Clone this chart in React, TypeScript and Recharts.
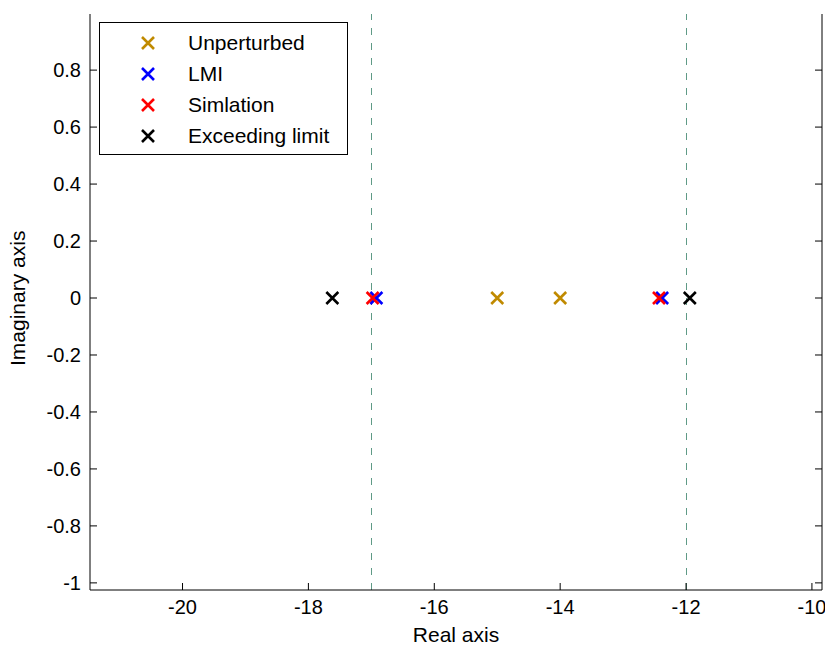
import {
  ScatterChart,
  Scatter,
  XAxis,
  YAxis,
  ReferenceLine,
  Legend,
} from "recharts";

// pole locations (real part, imaginary part)
const unperturbed = [
  { re: -15.0, im: 0 },
  { re: -14.0, im: 0 },
];
const lmi = [
  { re: -16.92, im: 0 },
  { re: -12.38, im: 0 },
];
const simulation = [
  { re: -16.98, im: 0 },
  { re: -12.43, im: 0 },
];
const exceeding = [
  { re: -17.62, im: 0 },
  { re: -11.94, im: 0 },
];

const limits = [-17, -12];

const xTicks = [-20, -18, -16, -14, -12, -10];
const yTicks = [-1, -0.8, -0.6, -0.4, -0.2, 0, 0.2, 0.4, 0.6, 0.8];

const xDomain = [-21.47, -9.84];
const yDomain = [-1.025, 0.997];

const series = [
  { name: "Unperturbed", color: "#c08a00", data: unperturbed },
  { name: "LMI", color: "#0000ff", data: lmi },
  { name: "Simlation", color: "#ff0000", data: simulation },
  { name: "Exceeding limit", color: "#000000", data: exceeding },
];

const FONT = "'Liberation Sans', Arial, sans-serif";
const TICK_LEN = 7;

function Cross({ cx, cy, fill }: any) {
  const r = 6;
  return (
    <path
      d={`M${cx - r},${cy - r}L${cx + r},${cy + r}M${cx - r},${cy + r}L${cx + r},${cy - r}`}
      stroke={fill}
      strokeWidth={2.6}
      fill="none"
    />
  );
}

const BOTTOM_MARGIN = 9;
const LEFT_MARGIN = 9;

function BottomTick({ x, y, payload }: any) {
  const axisY = y - BOTTOM_MARGIN;
  return (
    <g>
      <line x1={x} y1={axisY} x2={x} y2={axisY - TICK_LEN} stroke="#000" />
      <text x={x} y={y} dy="0.75em" textAnchor="middle" fontSize={20} fontFamily={FONT} fill="#000">
        {payload.value}
      </text>
    </g>
  );
}

function LeftTick({ x, y, payload }: any) {
  const axisX = x + LEFT_MARGIN;
  return (
    <g>
      <line x1={axisX} y1={y} x2={axisX + TICK_LEN} y2={y} stroke="#000" />
      <text x={x} y={y} dy="0.36em" textAnchor="end" fontSize={20} fontFamily={FONT} fill="#000">
        {payload.value}
      </text>
    </g>
  );
}

function TopTick({ x, y }: any) {
  return <line x1={x} y1={y} x2={x} y2={y + TICK_LEN} stroke="#000" />;
}

function RightTick({ x, y }: any) {
  return <line x1={x} y1={y} x2={x - TICK_LEN} y2={y} stroke="#000" />;
}

function LegendBox() {
  return (
    <div
      style={{
        width: 247,
        height: 131,
        border: "1px solid #000",
        background: "#fff",
        fontFamily: FONT,
        fontSize: 21,
        position: "relative",
      }}
    >
      {series.map((s, i) => (
        <div
          key={s.name}
          style={{ position: "absolute", left: 0, top: 20 + i * 31 - 12, height: 24, width: 247 }}
        >
          <svg width={20} height={20} style={{ position: "absolute", left: 38, top: 2 }}>
            <Cross cx={10} cy={10} fill={s.color} />
          </svg>
          <span style={{ position: "absolute", left: 88, top: 0, lineHeight: "24px", whiteSpace: "nowrap" }}>
            {s.name}
          </span>
        </div>
      ))}
    </div>
  );
}

export default function App() {
  return (
    <div style={{ position: "absolute", left: 0, top: 0, background: "#fff" }}>
      <ScatterChart
        width={825}
        height={648}
        margin={{ top: 14, right: 0, bottom: 0, left: 0 }}
      >
        <XAxis
          type="number"
          dataKey="re"
          domain={xDomain}
          ticks={xTicks}
          interval={0}
          allowDataOverflow
          height={58}
          tickSize={0}
          tickMargin={BOTTOM_MARGIN}
          tick={<BottomTick />}
          axisLine={{ stroke: "#000" }}
          label={{ value: "Real axis", position: "insideBottom", offset: 6, fontSize: 21, fontFamily: FONT, fill: "#000" }}
        />
        <XAxis
          xAxisId="top"
          orientation="top"
          type="number"
          domain={xDomain}
          ticks={xTicks}
          interval={0}
          allowDataOverflow
          height={0}
          tickSize={0}
          tickMargin={0}
          tick={<TopTick />}
          axisLine={{ stroke: "#000" }}
        />
        <YAxis
          type="number"
          dataKey="im"
          domain={yDomain}
          ticks={yTicks}
          interval={0}
          allowDataOverflow
          width={90}
          tickSize={0}
          tickMargin={LEFT_MARGIN}
          tick={<LeftTick />}
          axisLine={{ stroke: "#000" }}
          label={{ value: "Imaginary axis", angle: -90, position: "insideLeft", offset: 18, dy: 64, fontSize: 21, fontFamily: FONT, fill: "#000" }}
        />
        <YAxis
          yAxisId="right"
          orientation="right"
          type="number"
          domain={yDomain}
          ticks={yTicks}
          interval={0}
          allowDataOverflow
          width={3}
          tickSize={0}
          tickMargin={0}
          tick={<RightTick />}
          axisLine={{ stroke: "#000" }}
        />
        {limits.map((v) => (
          <ReferenceLine
            key={v}
            x={v}
            stroke="#5f9a86"
            strokeDasharray="7 8"
            strokeWidth={1}
            shapeRendering="crispEdges"
          />
        ))}
        <Legend
          layout="vertical"
          align="center"
          verticalAlign="middle"
          wrapperStyle={{ left: 99, top: 22, width: 249, height: 133 }}
          content={<LegendBox />}
        />
        {series.map((s) => (
          <Scatter
            key={s.name}
            name={s.name}
            data={s.data}
            fill={s.color}
            shape={<Cross />}
            isAnimationActive={false}
          />
        ))}
      </ScatterChart>
    </div>
  );
}
